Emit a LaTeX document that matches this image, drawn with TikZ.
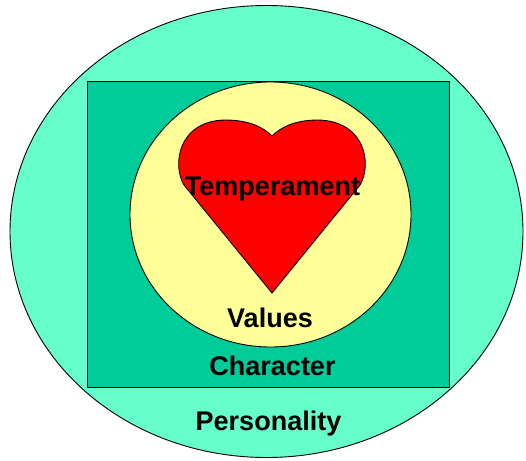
\documentclass[tikz,border=0pt]{standalone}
\usepackage{fontspec}
\setmainfont{Liberation Sans}
\definecolor{outerc}{HTML}{66FFCC}
\definecolor{rectc}{HTML}{00CC99}
\definecolor{yellowc}{HTML}{FFFF99}
\definecolor{heartc}{HTML}{FF0000}
\begin{document}
\begin{tikzpicture}[x=1pt,y=-1pt,
  shapeline/.style={draw=black,line width=0.9pt},
  lbl/.style={font=\fontsize{27}{30}\selectfont\bfseries,anchor=base,inner sep=0pt,text=black}]
\useasboundingbox (0,0) rectangle (526,460);
\fill[white] (0,0) rectangle (526,460);
\draw[shapeline,fill=outerc] (266.5,231.5) ellipse [x radius=256.5,y radius=226];
\draw[shapeline,fill=rectc] (87.5,81) rectangle (449,387);
\draw[shapeline,fill=yellowc] (270.5,214.5) ellipse [x radius=140.5,y radius=132.5];
\draw[shapeline,fill=heartc] (272,293) -- (184,185)
  .. controls (172,165) and (178,121) .. (225,120)
  .. controls (250,120) and (264,128) .. (272,136)
  .. controls (280,128) and (294,120) .. (318,120)
  .. controls (366,121) and (372,165) .. (360,185) -- cycle;
\node[lbl] (temp) at (272.5,195) {Temperament};
\node[lbl] (val) at (270,327) {Values};
\node[lbl] (char) at (272.5,375) {Character};
\node[lbl] (pers) at (268.5,430) {Personality};
\end{tikzpicture}
\end{document}
